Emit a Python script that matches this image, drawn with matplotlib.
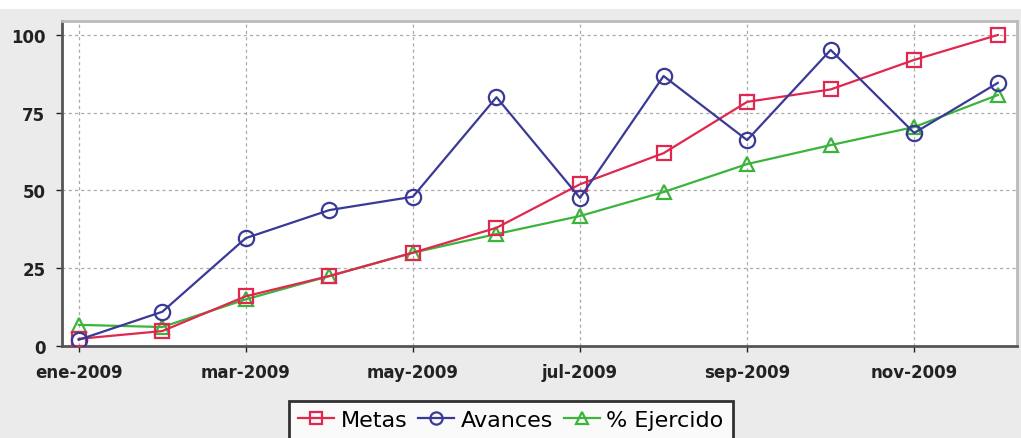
import matplotlib
matplotlib.use("Agg")
import matplotlib.pyplot as plt
import numpy as np

# Monthly values, 2009
months = ["ene-2009", "feb-2009", "mar-2009", "abr-2009", "may-2009", "jun-2009",
          "jul-2009", "ago-2009", "sep-2009", "oct-2009", "nov-2009", "dic-2009"]
metas = [2.3, 4.8, 16, 22.5, 30, 38, 52, 62, 78.5, 82.5, 92, 100]
avances = [2, 11, 34.7, 43.7, 48, 80, 47.6, 86.8, 66.2, 95.2, 68.5, 84.6]
ejercido = [6.8, 6.1, 15, 22.5, 30, 36, 41.8, 49.5, 58.5, 64.6, 70.4, 80.7]

x = np.arange(len(months))

fig = plt.figure(figsize=(10.21, 4.39), dpi=100, facecolor="#ebebeb")
# white strip at the very top
fig.patches.append(plt.Rectangle((0, 0.977), 1, 0.023, transform=fig.transFigure,
                                 facecolor="white", edgecolor="none"))
ax = fig.add_axes([62 / 1021, 1 - 347 / 439, (1017 - 62) / 1021, (347 - 22) / 439])
ax.set_facecolor("white")

ax.plot(x, metas, color="#e0284f", marker="s", markersize=10, markerfacecolor="none",
        markeredgewidth=1.6, linewidth=1.6, label="Metas", zorder=3)
ax.plot(x, avances, color="#3a3a96", marker="o", markersize=11, markerfacecolor="none",
        markeredgewidth=1.6, linewidth=1.6, label="Avances", zorder=4)
ax.plot(x, ejercido, color="#3cb43c", marker="^", markersize=10, markerfacecolor="none",
        markeredgewidth=1.6, linewidth=1.6, label="% Ejercido", zorder=2)

ax.set_xlim(-0.2, 11.23)
ax.set_ylim(0, 104.5)
ax.set_yticks([0, 25, 50, 75, 100])
ax.set_xticks(x[::2])
ax.set_xticklabels(months[::2])
ax.grid(True, color="#aaaaaa", linestyle=(0, (2.5, 2.5)), linewidth=0.9)
ax.tick_params(axis="both", labelsize=12, colors="#222222", length=4, width=1)
ax.tick_params(axis="y", pad=8)
ax.tick_params(axis="x", pad=8)
for lbl in ax.get_xticklabels() + ax.get_yticklabels():
    lbl.set_fontweight("bold")
for side in ["left", "bottom"]:
    ax.spines[side].set_color("#555555")
    ax.spines[side].set_linewidth(2)
for side in ["top", "right"]:
    ax.spines[side].set_color("#bbbbbb")
    ax.spines[side].set_linewidth(2)

leg = fig.legend(loc="center", bbox_to_anchor=(511 / 1021, 1 - 421 / 439), ncol=3,
                 fontsize=16, frameon=True, fancybox=False, handlelength=1.6,
                 markerscale=0.8, columnspacing=0.5, handletextpad=0.3, borderpad=0.4,
                 borderaxespad=0.2)
leg.get_frame().set_edgecolor("black")
leg.get_frame().set_linewidth(2)
leg.get_frame().set_facecolor("white")

fig.savefig("out.png", dpi=100, facecolor=fig.get_facecolor())
